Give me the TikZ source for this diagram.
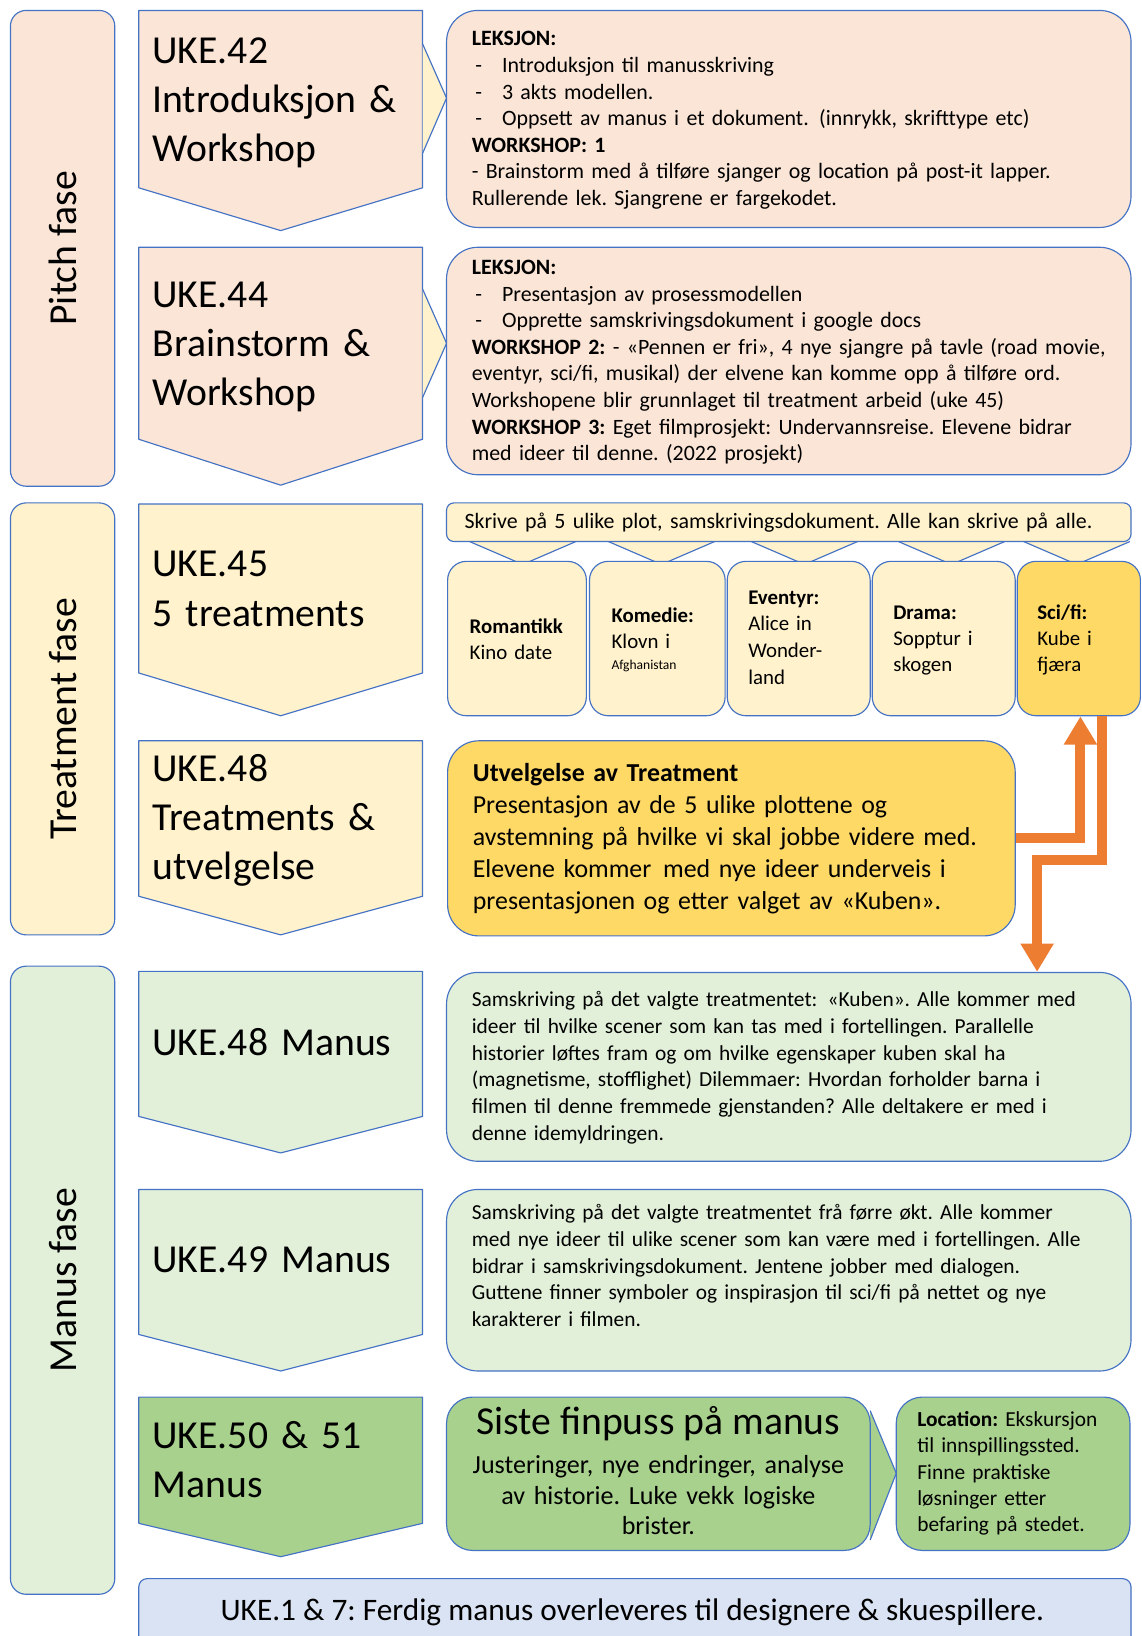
\documentclass[tikz,border=0pt]{standalone}
\usepackage{fontspec}
\setmainfont{Carlito}
\usetikzlibrary{arrows.meta,fit}
\frenchspacing

\definecolor{edgeblue}{HTML}{4472C4}
\definecolor{peach}{HTML}{FBE5D6}
\definecolor{cream}{HTML}{FFF2CC}
\definecolor{mint}{HTML}{E2F0D9}
\definecolor{leaf}{HTML}{A9D18E}
\definecolor{gold}{HTML}{FFD966}
\definecolor{sky}{HTML}{DAE3F3}
\definecolor{flame}{HTML}{ED7D31}

\newcommand{\fsz}[2]{\fontsize{#1pt}{#2pt}\selectfont}
\newcommand{\itemdash}{\makebox[29pt][l]{\,-}}
% week arrow: fill, top, shoulder, tip
\newcommand{\weekarrow}[4]{\draw[outline, fill=#1] (133,#2) -- (405,#2) -- (405,#3) -- (269,#4) -- (133,#3) -- cycle;}

\tikzset{
  outline/.style={draw=edgeblue, line width=1.1pt, line join=round},
  rbox/.style={outline, rectangle, inner sep=0pt},
  phase/.style={rotate=90, inner sep=0pt, font=\fsz{38}{46}},
  weektext/.style={anchor=base west, inner sep=0pt, align=left, text width=262pt, font=\fsz{38}{47}},
  body/.style={anchor=base west, inner sep=0pt, align=left, text width=700pt, font=\fsz{21}{25.5}},
  small/.style={anchor=base west, inner sep=0pt, align=left, text width=120pt, font=\fsz{20}{25}},
  flow/.style={draw=flame, line width=9.5pt, -{Triangle[width=30pt,length=27pt]}},
}

\begin{document}
\begin{tikzpicture}[x=1pt, y=-1pt]
\useasboundingbox (0,0) rectangle (1094,1568);
\clip (0,0) rectangle (1094,1568);
\fill[white] (0,0) rectangle (1094,1568);

% ---------- phase columns ----------
\node[rbox, fill=peach, rounded corners=15pt, fit={(10,10)(110,466)}] (pitch) {};
\node[phase] (pitchlbl) at (pitch.center) {Pitch fase};
\node[rbox, fill=cream, rounded corners=15pt, fit={(10,482)(110,896)}] (treat) {};
\node[phase] (treatlbl) at (treat.center) {Treatment fase};
\node[rbox, fill=mint, rounded corners=15pt, fit={(10,926)(110,1528)}] (manus) {};
\node[phase] (manuslbl) at (manus.center) {Manus fase};

% ---------- week arrows ----------
\weekarrow{peach}{10}{180}{221}
\weekarrow{peach}{237}{421}{465}
\weekarrow{cream}{483}{645}{686}
\weekarrow{cream}{710}{859}{896}
\weekarrow{mint}{931}{1070}{1105}
\weekarrow{mint}{1140}{1279}{1314}
\weekarrow{leaf}{1339}{1460}{1492}

\node[weektext] (w42) at (146,61) {UKE.42\\Introduksjon \&\\Workshop};
\node[weektext] (w44) at (146,295) {UKE.44\\Brainstorm \&\\Workshop};
\node[weektext] (w45) at (146,553) {UKE.45\\5 treatments};
\node[weektext] (w48) at (146,749) {UKE.48\\Treatments \&\\utvelgelse};
\node[weektext] (w48m) at (146,1012) {UKE.48 Manus};
\node[weektext] (w49m) at (146,1220) {UKE.49 Manus};
\node[weektext] (w50) at (146,1388) {UKE.50 \& 51\\Manus};

% ---------- pointers from the week arrows ----------
\fill[cream] (405,42) -- (428,94) -- (405,147) -- cycle;
\draw[outline] (405,42) -- (428,94) -- (405,147);
\fill[cream] (405,277) -- (428,329) -- (405,381) -- cycle;
\draw[outline] (405,277) -- (428,329) -- (405,381);

% ---------- pitch phase ----------
\node[rbox, fill=peach, rounded corners=30pt, fit={(428,10)(1084,218)}] (t1) {};
\node[body] (t1txt) at (452,44) {\textbf{LEKSJON:}\\
\itemdash Introduksjon til manusskriving\\
\itemdash 3 akts modellen.\\
\itemdash Oppsett av manus i et dokument.\hspace{3pt} (innrykk, skrifttype etc)\\
\textbf{WORKSHOP: 1}\\
- Brainstorm med å tilføre sjanger og location på post-it lapper.\\
Rullerende lek. Sjangrene er fargekodet.};

\node[rbox, fill=peach, rounded corners=30pt, fit={(428,237)(1084,455)}] (t2) {};
\node[body] (t2txt) at (452,263) {\textbf{LEKSJON:}\\
\itemdash Presentasjon av prosessmodellen\\
\itemdash Opprette samskrivingsdokument i google docs\\
\textbf{WORKSHOP 2:} - «Pennen er fri», 4 nye sjangre på tavle (road movie,\\
eventyr, sci/fi, musikal) der elvene kan komme opp å tilføre ord.\\
Workshopene blir grunnlaget til treatment arbeid (uke 45)\\
\textbf{WORKSHOP 3:} Eget filmprosjekt: Undervannsreise. Elevene bidrar\\
med ideer til denne. (2022 prosjekt)};

% ---------- treatment phase ----------
\foreach \px in {501,634,771,912,1032} {
  \fill[cream] (\px-51,519) -- (\px,541) -- (\px+51,519) -- cycle;
  \draw[outline] (\px-51,519) -- (\px,541) -- (\px+51,519);
}
\node[rbox, fill=cream, rounded corners=7pt, fit={(428,482)(1084,519)}] (plots) {};
\node[body, font=\fsz{21}{25}] (plotstxt) at (445,507) {Skrive på 5 ulike plot, samskrivingsdokument. Alle kan skrive på alle.};

\node[rbox, fill=cream, rounded corners=18pt, fit={(429,538)(562,686)}] (roman) {};
\node[rbox, fill=cream, rounded corners=18pt, fit={(565,538)(695,686)}] (komedie) {};
\node[rbox, fill=cream, rounded corners=18pt, fit={(697,538)(834,686)}] (eventyr) {};
\node[rbox, fill=cream, rounded corners=18pt, fit={(836,538)(973,686)}] (drama) {};
\node[rbox, fill=gold, rounded corners=18pt, fit={(975,538)(1093,686)}] (scifi) {};

\node[small] (romantxt) at (450,607) {\textbf{Romantikk}\\Kino date};
\node[small] (komedietxt) at (586,597) {\textbf{Komedie:}\\Klovn i\\[-5pt]{\fsz{13}{15}Afghanistan}};
\node[small, font=\fsz{20}{25.7}] (eventyrtxt) at (717,579) {\textbf{Eventyr:}\\Alice in\\Wonder-\\land};
\node[small] (dramatxt) at (856,594) {\textbf{Drama:}\\Sopptur i\\skogen};
\node[small] (scifitxt) at (994,594) {\textbf{Sci/fi:}\\Kube i\\fjæra};

\node[rbox, fill=gold, rounded corners=30pt, fit={(429,710)(973,897)}] (sel) {};
\node[body, font=\fsz{24.8}{30.7}] (seltxt) at (453,749) {\textbf{Utvelgelse av Treatment}\\
Presentasjon av de 5 ulike plottene og\\
avstemning på hvilke vi skal jobbe videre med.\\
Elevene kommer\hspace{3pt} med nye ideer underveis i\\
presentasjonen og etter valget av «Kuben».};

% ---------- manus phase ----------
\node[rbox, fill=mint, rounded corners=30pt, fit={(428,932)(1084,1113)}] (t5) {};
\node[body, font=\fsz{20.5}{25.6}] (t5txt) at (452,965) {Samskriving på det valgte treatmentet:\hspace{3pt} «Kuben». Alle kommer med\\
ideer til hvilke scener som kan tas med i fortellingen. Parallelle\\
historier løftes fram og om hvilke egenskaper kuben skal ha\\
(magnetisme, stofflighet) Dilemmaer: Hvordan forholder barna i\\
filmen til denne fremmede gjenstanden? Alle deltakere er med i\\
denne idemyldringen.};

\node[rbox, fill=mint, rounded corners=30pt, fit={(428,1140)(1084,1314)}] (t6) {};
\node[body, font=\fsz{20.5}{25.6}] (t6txt) at (452,1169) {Samskriving på det valgte treatmentet frå førre økt. Alle kommer\\
med nye ideer til ulike scener som kan være med i fortellingen. Alle\\
bidrar i samskrivingsdokument. Jentene jobber med dialogen.\\
Guttene finner symboler og inspirasjon til sci/fi på nettet og nye\\
karakterer i filmen.};

\fill[leaf] (834,1352) -- (859,1412) -- (834,1476) -- cycle;
\draw[outline] (834,1352) -- (859,1412) -- (834,1476);
\node[rbox, fill=leaf, rounded corners=25pt, fit={(428,1339)(834,1486)}] (t7) {};
\node[anchor=base, inner sep=0pt, font=\fsz{38}{46}] (t7head) at (631,1375) {Siste finpuss på manus};
\node[anchor=base, inner sep=0pt, align=center, text width=400pt, font=\fsz{25}{29.5}] (t7txt) at (631,1412) {Justeringer, nye endringer, analyse\\av historie. Luke vekk logiske\\brister.};

\node[rbox, fill=leaf, rounded corners=25pt, fit={(859,1339)(1083,1486)}] (t8) {};
\node[body, font=\fsz{20.5}{25.3}] (t8txt) at (879,1367) {\textbf{Location:} Ekskursjon\\
til innspillingssted.\\
Finne praktiske\\
løsninger etter\\
befaring på stedet.};

\node[rbox, fill=sky, rounded corners=8pt, fit={(133,1513)(1084,1600)}] (final) {};
\node[anchor=base, inner sep=0pt, font=\fsz{30}{34}] (finaltxt) at (606,1553) {UKE.1 \& 7: Ferdig manus overleveres til designere \& skuespillere.};

% ---------- selection arrows ----------
\coordinate (kink) at (994,824);
\draw[flow] (sel.east) -| ([xshift=1.5pt]scifi.south);
\draw[flow] ([xshift=22pt]scifi.south) |- (kink) -- (kink |- t5.north);
\end{tikzpicture}
\end{document}
